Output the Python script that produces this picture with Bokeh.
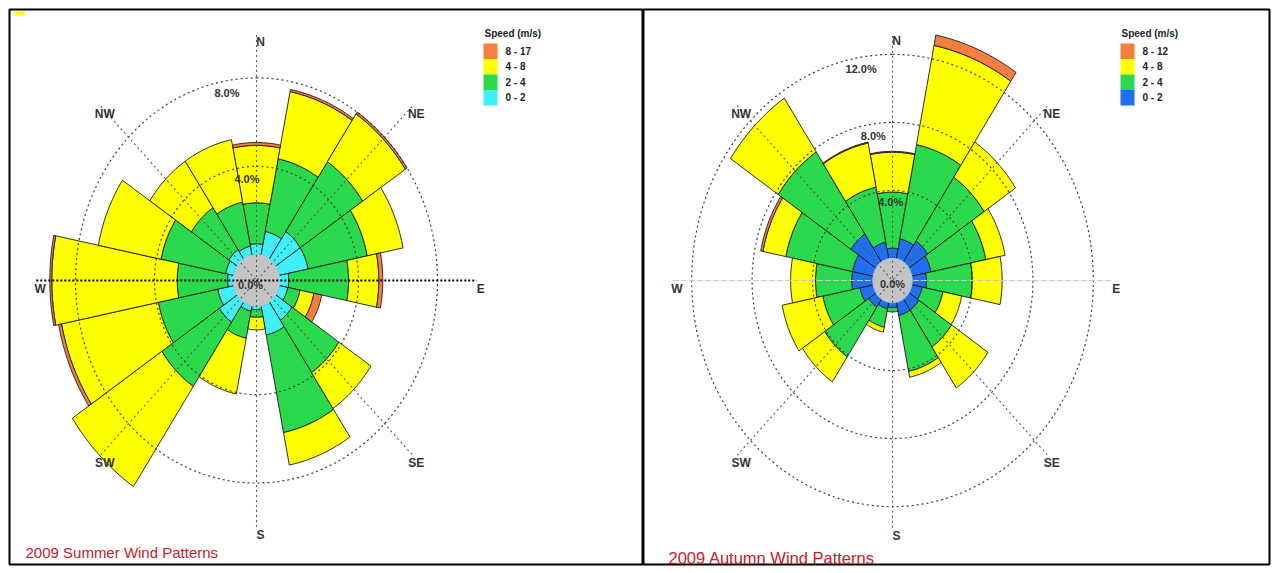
import numpy as np
from bokeh.plotting import figure
from bokeh.layouts import row
from bokeh.models import Range1d
from bokeh.embed import file_html
from bokeh.resources import INLINE
from bokeh.core.properties import value

# ---------------- data ----------------
directions = ["N", "NNE", "NE", "ENE", "E", "ESE", "SE", "SSE",
              "S", "SSW", "SW", "WSW", "W", "WNW", "NW", "NNW"]
dir_angles = [0, 22.5, 45, 67.5, 90, 112.5, 135, 157.5,
              180, 202.5, 225, 247.5, 270, 292.5, 315, 337.5]

# Summer 2009: frequency (%) per speed class
summer_labels = ["0 - 2", "2 - 4", "4 - 8", "8 - 17"]
summer_0_2 = [0.50, 1.10, 1.50, 1.50, 0.47, 0.45, 1.00, 1.35, 0.15, 0.25, 1.10, 0.84, 0.30, 0.43, 0.52, 0.42]
summer_2_4 = [1.85, 3.35, 3.80, 3.05, 3.03, 0.63, 2.85, 4.50, 0.35, 1.25, 3.50, 3.06, 2.55, 3.33, 2.28, 2.03]
summer_4_8 = [2.60, 3.10, 2.60, 1.85, 1.53, 0.72, 1.95, 1.50, 0.57, 2.57, 5.45, 5.00, 6.35, 3.24, 2.53, 2.88]
summer_8_17 = [0.13, 0.10, 0.10, 0.00, 0.20, 0.40, 0.00, 0.00, 0.00, 0.00, 0.00, 0.15, 0.10, 0.00, 0.00, 0.00]
summer_rings = [4.0, 8.0]

# Autumn 2009
autumn_labels = ["0 - 2", "2 - 4", "4 - 8", "8 - 12"]
autumn_0_2 = [0.60, 1.20, 1.50, 1.30, 0.95, 0.70, 0.80, 0.80, 0.30, 0.40, 0.60, 0.90, 1.40, 1.40, 2.00, 1.00]
autumn_2_4 = [3.30, 5.65, 4.50, 3.70, 3.03, 1.40, 2.60, 3.35, 0.25, 1.10, 3.50, 2.50, 2.40, 4.50, 5.80, 3.30]
autumn_4_8 = [2.35, 5.95, 2.50, 1.30, 1.98, 1.27, 2.90, 0.35, 0.00, 0.30, 1.77, 2.75, 1.65, 1.55, 3.80, 2.65]
autumn_8_12 = [0.05, 0.62, 0.00, 0.00, 0.00, 0.00, 0.00, 0.00, 0.00, 0.00, 0.00, 0.00, 0.00, 0.15, 0.00, 0.05]
autumn_rings = [4.0, 8.0, 12.0]

compass = ["N", "NE", "E", "SE", "S", "SW", "W", "NW"]
compass_angles = [0, 45, 90, 135, 180, 225, 270, 315]

ORANGE = "#f47f3f"
YELLOW = "#ffff00"
GREEN = "#2ad94c"
CYAN = "#40f0f8"
BLUE = "#1f6ff0"
GRAY = "#c4c4c4"
TITLE_RED = "#c8202a"

FONT = value("Liberation Sans")
WIN_H = 573
EDGE = 9


def sector(a_deg, r_in, r_out, half=11.25, n=18):
    th = np.radians(np.linspace(a_deg - half, a_deg + half, n))
    xo = r_out * np.sin(th)
    yo = r_out * np.cos(th)
    xi = r_in * np.sin(th[::-1])
    yi = r_in * np.cos(th[::-1])
    return list(np.concatenate([xo, xi])), list(np.concatenate([yo, yi]))


def make_panel(width, mb_left, mb_right, page_left, cx_page, cy_page,
               sx, sy, r0, series, colors, class_labels, rings, title,
               ring_label_angles, lab_r, ew_color, ew_width, ew_dash,
               center_off, legend_x, title_xy, title_size, calm_line, mark=False):
    fl = page_left + mb_left
    ft = EDGE
    fw = width - mb_left - mb_right
    fh = WIN_H - 2 * EDGE
    x0 = -(cx_page - fl) / sx
    x1 = x0 + fw / sx
    y1 = (cy_page - ft) / sy
    y0 = y1 - fh / sy

    def px(X):
        return x0 + (X - fl) / sx

    def py(Y):
        return y1 - (Y - ft) / sy

    p = figure(width=width, height=WIN_H,
               x_range=Range1d(x0, x1), y_range=Range1d(y0, y1),
               x_axis_type=None, y_axis_type=None,
               output_backend="svg", toolbar_location=None,
               min_border_left=mb_left, min_border_right=mb_right,
               min_border_top=EDGE, min_border_bottom=EDGE)
    p.outline_line_color = "black"
    p.outline_line_width = 2
    p.background_fill_color = "white"
    p.border_fill_color = "white"

    # ---- stacked sectors ----
    base = np.zeros(len(directions))
    for vals, col in zip(series, colors):
        xs, ys = [], []
        for i, a in enumerate(dir_angles):
            v = vals[i]
            if v > 0:
                sx_, sy_ = sector(a, r0 + base[i], r0 + base[i] + v)
                xs.append(sx_)
                ys.append(sy_)
        p.patches(xs, ys, fill_color=col, line_color="#1a1a1a", line_width=0.9)
        base = base + np.array(vals)

    # ---- rings ----
    th = np.radians(np.linspace(0, 360, 361))
    for rv in rings:
        rr = r0 + rv
        p.line(rr * np.sin(th), rr * np.cos(th), line_color="#3a3a3a",
               line_width=1.2, line_dash="2 3")

    # ---- calm circle ----
    p.patch(r0 * np.sin(th), r0 * np.cos(th), fill_color=GRAY,
            line_color=calm_line, line_width=1.2)

    # ---- compass lines ----
    for a in [0, 45, 135]:
        ar = np.radians(a)
        p.line([-lab_r * np.sin(ar), lab_r * np.sin(ar)],
               [-lab_r * np.cos(ar), lab_r * np.cos(ar)],
               line_color="#555555", line_width=1.1, line_dash="2 3")
    p.line([-lab_r, lab_r], [0, 0], line_color=ew_color, line_width=ew_width,
           line_dash=ew_dash)

    # ---- compass labels ----
    lx, ly = [], []
    for a in compass_angles:
        ar = np.radians(a)
        lx.append(lab_r * np.sin(ar) + 4 / sx)
        ly.append(lab_r * np.cos(ar) - 8 / sy)
    p.text(lx, ly, text=compass, text_font=FONT, text_font_style="bold",
           text_font_size="12px", text_color="#333333",
           text_align="center", text_baseline="middle")

    # ---- ring labels ----
    rx, ry, rt = [], [], []
    for rv, ang in zip(rings, ring_label_angles):
        rr = r0 + rv - 12.0 / sy
        rx.append(-rr * np.sin(np.radians(ang)))
        ry.append(rr * np.cos(np.radians(ang)))
        rt.append(f"{rv:.1f}%")
    rx.append(center_off[0] / sx)
    ry.append(-center_off[1] / sy)
    rt.append("0.0%")
    p.text(rx, ry, text=rt, text_font=FONT, text_font_style="bold",
           text_font_size="11px", text_color="#333333",
           text_align="center", text_baseline="middle")

    # ---- legend ----
    p.text([px(legend_x + 1)], [py(33)], text=["Speed (m/s)"], text_font=FONT,
           text_font_style="bold", text_font_size="10px", text_color="#222222",
           text_align="left", text_baseline="middle")
    row_h = 15.5
    tops = [43 + k * row_h for k in range(4)]
    leg_cols = colors[::-1]
    leg_labs = class_labels[::-1]
    p.quad(left=[px(legend_x)] * 4, right=[px(legend_x + 14)] * 4,
           top=[py(t) for t in tops], bottom=[py(t + row_h) for t in tops],
           fill_color=leg_cols, line_color=None)
    p.text([px(legend_x + 22)] * 4, [py(t + row_h / 2) for t in tops],
           text=leg_labs, text_font=FONT, text_font_style="bold",
           text_font_size="10px", text_color="#222222",
           text_align="left", text_baseline="middle")

    # ---- title ----
    p.text([px(title_xy[0])], [py(title_xy[1])], text=[title], text_font=FONT,
           text_font_size=title_size, text_color=TITLE_RED,
           text_align="left", text_baseline="middle")

    if mark:
        p.quad(left=[px(14)], right=[px(24)], top=[py(11)], bottom=[py(15)],
               fill_color=YELLOW, line_color=None)
    return p


p1 = make_panel(643, EDGE, 0, 0, 256, 280, 19.75, 22.1, 1.165,
                [summer_0_2, summer_2_4, summer_4_8, summer_8_17],
                [CYAN, GREEN, YELLOW, ORANGE], summer_labels, summer_rings,
                "2009 Summer Wind Patterns", [6, 10], 11.15,
                "#000000", 1.8, "2 2", (-6, 4), 483, (25, 552), "15px",
                "#9adbe6", mark=True)

p2 = make_panel(635, 0, EDGE, 643, 892, 280, 15.1, 17.0, 1.3,
                [autumn_0_2, autumn_2_4, autumn_4_8, autumn_8_12],
                [BLUE, GREEN, YELLOW, ORANGE], autumn_labels, autumn_rings,
                "2009 Autumn Wind Patterns", [1.5, 8.5, 9.5], 14.55,
                "#c8c8c8", 1.2, "6 2", (0, 3), 1120, (668, 557), "16.5px",
                "#9cc4f0")

layout = row(p1, p2)
open("out.html", "w").write(file_html(layout, INLINE))
